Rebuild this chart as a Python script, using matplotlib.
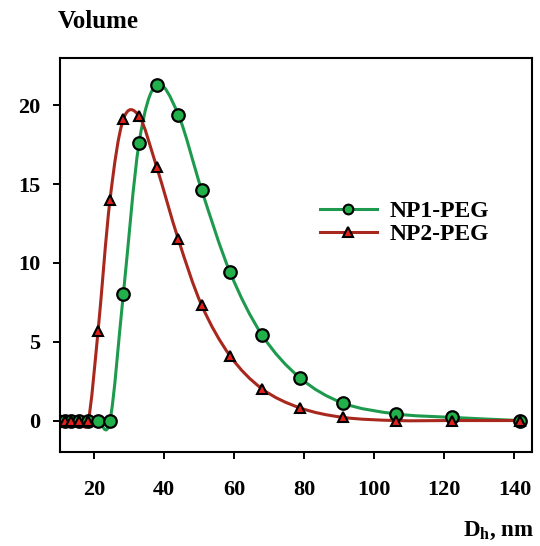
import numpy as np
import matplotlib
matplotlib.use('Agg')
import matplotlib.pyplot as plt
from matplotlib.path import Path
from matplotlib.patches import PathPatch

# ==============================================================================
# DATA
# ==============================================================================
d_h = [9.7, 11.6, 13.5, 15.7, 18.3, 21.1, 24.5, 28.3, 32.8, 37.8,
       44.0, 50.7, 58.8, 68.0, 78.8, 91.1, 106.2, 122.1, 141.6]
np1_peg = [0, 0, 0, 0, 0, 0, 0, 8.0, 17.6, 21.3,
           19.4, 14.6, 9.4, 5.4, 2.7, 1.1, 0.42, 0.2, 0]
np2_peg = [0, 0, 0, 0, 0, 5.7, 14.0, 19.1, 19.3, 16.1,
           11.5, 7.3, 4.1, 2.0, 0.8, 0.2, 0, 0, 0]

GREEN = '#1E9A4E'
GREEN_FILL = '#22B04A'
RED = '#A8281E'
RED_FILL = '#E3201B'

plt.rcParams['font.family'] = ['Liberation Serif', 'DejaVu Serif']
plt.rcParams['font.weight'] = 'bold'


def smooth_path(x, y):
    # Catmull-Rom through the points, handed to matplotlib as cubic Beziers
    x = np.asarray(x, float); y = np.asarray(y, float)
    n = len(x)
    mx = np.gradient(x); my = np.gradient(y)
    verts = [(x[0], y[0])]
    codes = [Path.MOVETO]
    for i in range(n - 1):
        verts += [(x[i] + mx[i] / 3, y[i] + my[i] / 3),
                  (x[i + 1] - mx[i + 1] / 3, y[i + 1] - my[i + 1] / 3),
                  (x[i + 1], y[i + 1])]
        codes += [Path.CURVE4] * 3
    return Path(verts, codes)


fig = plt.figure(figsize=(5.4, 5.46), dpi=100)
ax = fig.add_axes([0.111, 0.172, 0.874, 0.722])

for yv, col in [(np1_peg, GREEN), (np2_peg, RED)]:
    ax.add_patch(PathPatch(smooth_path(d_h, yv), facecolor='none',
                           edgecolor=col, lw=2.2, zorder=2))

ax.plot(d_h, np1_peg, 'o', ms=9, mfc=GREEN_FILL, mec='black', mew=1.6, zorder=3)
ax.plot(d_h, np2_peg, '^', ms=7.5, mfc=RED_FILL, mec='black', mew=1.5, zorder=4)

# legend proxies
h1, = ax.plot([], [], '-o', color=GREEN, lw=2.2, ms=7, mfc=GREEN_FILL, mec='black', mew=1.5)
h2, = ax.plot([], [], '-^', color=RED, lw=2.2, ms=6.5, mfc=RED_FILL, mec='black', mew=1.5)
ax.legend([h1, h2], ['NP1-PEG', 'NP2-PEG'], loc='center left',
          bbox_to_anchor=(0.506, 0.581), frameon=False, numpoints=1,
          handlelength=2.4, handletextpad=0.55, labelspacing=0.05,
          prop={'size': 17, 'weight': 'bold'})

ax.set_xlim(10.2, 145)
ax.set_ylim(-2, 23)
ax.set_xticks([20, 40, 60, 80, 100, 120, 140])
ax.set_yticks([0, 5, 10, 15, 20])
ax.tick_params(direction='out', length=5, width=1.4, labelsize=16, pad=9)
ax.tick_params(axis='x', pad=15)
for s in ax.spines.values():
    s.set_linewidth(1.5)

fig.text(0.107, 0.96, 'Volume', fontsize=18, fontweight='bold', va='center')
fig.text(0.99, 0.028, r'D$_\mathregular{h}$, nm', fontsize=16.5, fontweight='bold',
         ha='right', va='center')

fig.savefig('out.png', dpi=100)
